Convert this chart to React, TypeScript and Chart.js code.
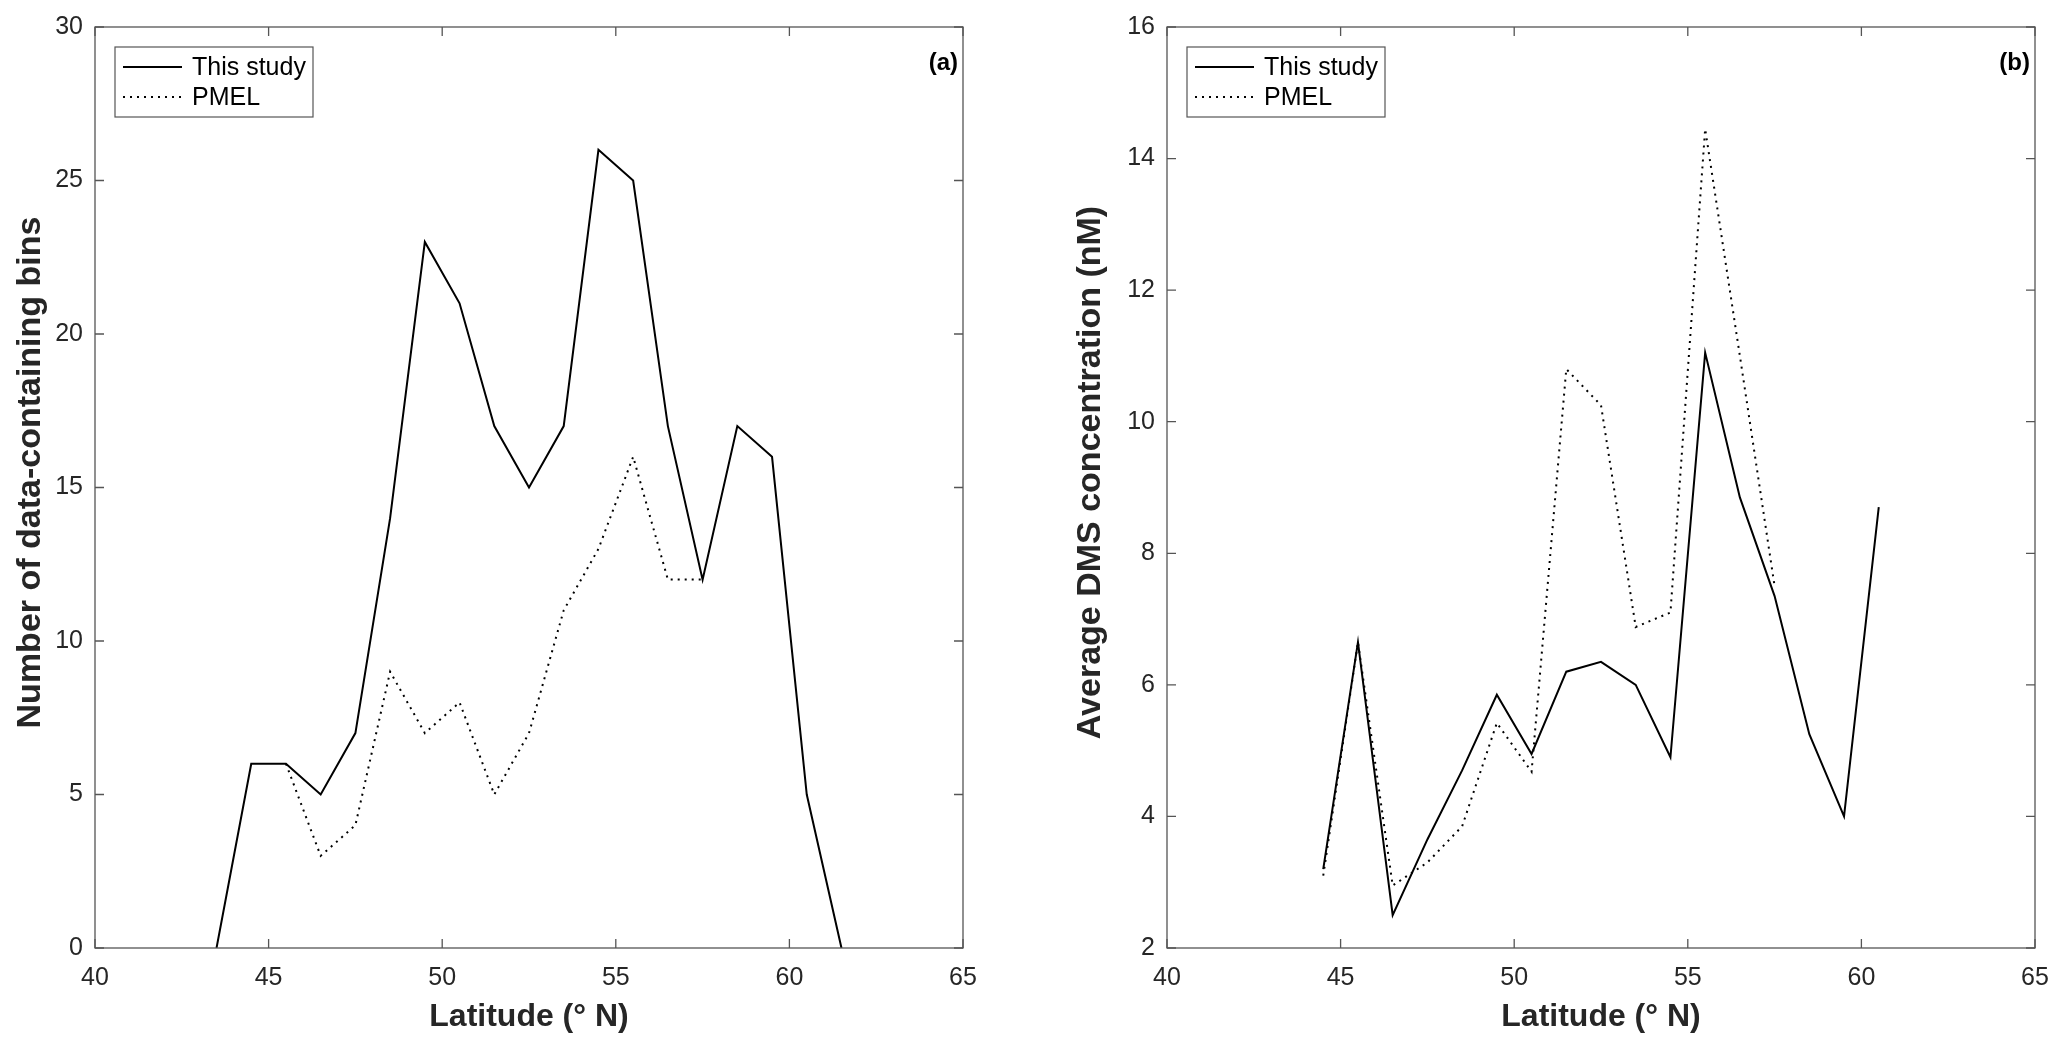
import React, { useEffect, useRef } from "react";
import { Chart, registerables } from "chart.js";

Chart.register(...registerables);

// ---------- data ----------
const latitudeTicks = [40, 45, 50, 55, 60, 65];

// Panel (a): number of data-containing bins
const binsLatStudy = [43.5, 44.5, 45.5, 46.5, 47.5, 48.5, 49.5, 50.5, 51.5, 52.5, 53.5, 54.5, 55.5, 56.5, 57.5, 58.5, 59.5, 60.5, 61.5];
const binsStudy = [0, 6, 6, 5, 7, 14, 23, 21, 17, 15, 17, 26, 25, 17, 12, 17, 16, 5, 0];
const binsLatPmel = [45.5, 46.5, 47.5, 48.5, 49.5, 50.5, 51.5, 52.5, 53.5, 54.5, 55.5, 56.5, 57.5];
const binsPmel = [6, 3, 4, 9, 7, 8, 5, 7, 11, 13, 16, 12, 12];

// Panel (b): average DMS concentration (nM)
const dmsLatStudy = [44.5, 45.5, 46.5, 47.5, 48.5, 49.5, 50.5, 51.5, 52.5, 53.5, 54.5, 55.5, 56.5, 57.5, 58.5, 59.5, 60.5];
const dmsStudy = [3.2, 6.65, 2.5, 3.65, 4.7, 5.85, 4.95, 6.2, 6.35, 6.0, 4.9, 11.05, 8.85, 7.35, 5.25, 4.0, 8.7];
const dmsLatPmel = [44.5, 45.5, 46.5, 47.5, 48.5, 49.5, 50.5, 51.5, 52.5, 53.5, 54.5, 55.5, 56.5, 57.5];
const dmsPmel = [3.1, 6.65, 2.95, 3.3, 3.85, 5.42, 4.68, 10.8, 10.25, 6.88, 7.1, 14.45, 11.0, 7.5];

const seriesNames = ["This study", "PMEL"];
const xTitle = "Latitude (° N)";

const FONT = "'Liberation Sans', Arial, Helvetica, sans-serif";
const TEXT = "#262626";

type PanelProps = {
  left: number;
  width: number;
  axisLeft: number;
  axisRight: number;
  yTitle: string;
  yTitleX: number;
  yMin: number;
  yMax: number;
  yStep: number;
  letter: string;
  studyX: number[];
  studyY: number[];
  pmelX: number[];
  pmelY: number[];
};

const toPts = (xs: number[], ys: number[]) => xs.map((x, i) => ({ x, y: ys[i] }));

function Panel(p: PanelProps) {
  const ref = useRef<HTMLCanvasElement | null>(null);
  useEffect(() => {
    if (!ref.current) return;
    const H = 1050;
    const topPad = 27;
    const bottomAxis = 948;
    const rightPad = p.width - p.axisRight;

    const matlabPlugin = {
      id: "matlabDeco",
      afterDatasetsDraw(chart: any) {
        const { ctx, chartArea } = chart;
        const { left, right, top, bottom } = chartArea;
        const xs = chart.scales.x;
        const ys = chart.scales.y;
        ctx.save();
        // axes box
        ctx.strokeStyle = "#555555";
        ctx.lineWidth = 1.3;
        ctx.strokeRect(left, top, right - left, bottom - top);
        // inward ticks on all sides
        const tl = 9;
        ctx.beginPath();
        for (const t of xs.ticks) {
          const px = xs.getPixelForValue(t.value);
          ctx.moveTo(px, bottom);
          ctx.lineTo(px, bottom - tl);
          ctx.moveTo(px, top);
          ctx.lineTo(px, top + tl);
        }
        for (const t of ys.ticks) {
          const py = ys.getPixelForValue(t.value);
          ctx.moveTo(left, py);
          ctx.lineTo(left + tl, py);
          ctx.moveTo(right, py);
          ctx.lineTo(right - tl, py);
        }
        ctx.stroke();

        // legend
        const lx = left + 20;
        const ly = top + 20;
        const lw = 198;
        const lh = 70;
        ctx.fillStyle = "#ffffff";
        ctx.fillRect(lx, ly, lw, lh);
        ctx.strokeStyle = "#555555";
        ctx.lineWidth = 1.2;
        ctx.strokeRect(lx, ly, lw, lh);
        const rows = [ly + 20, ly + 50];
        ctx.strokeStyle = "#000000";
        ctx.lineWidth = 2;
        ctx.setLineDash([]);
        ctx.beginPath();
        ctx.moveTo(left + 28, rows[0]);
        ctx.lineTo(left + 87, rows[0]);
        ctx.stroke();
        ctx.setLineDash([2, 5]);
        ctx.beginPath();
        ctx.moveTo(left + 28, rows[1]);
        ctx.lineTo(left + 87, rows[1]);
        ctx.stroke();
        ctx.setLineDash([]);
        ctx.fillStyle = "#000000";
        ctx.font = `25px ${FONT}`;
        ctx.textAlign = "left";
        ctx.textBaseline = "middle";
        ctx.fillText(seriesNames[0], left + 97, rows[0] + 1);
        ctx.fillText(seriesNames[1], left + 97, rows[1] + 1);

        // panel letter
        ctx.font = `bold 24px ${FONT}`;
        ctx.textAlign = "right";
        ctx.fillText(p.letter, right - 5, top + 36);

        // y-axis title
        ctx.translate(p.yTitleX, (top + bottom) / 2 - 15);
        ctx.rotate(-Math.PI / 2);
        ctx.fillStyle = TEXT;
        ctx.font = `bold 34px ${FONT}`;
        ctx.textAlign = "center";
        ctx.textBaseline = "middle";
        ctx.fillText(p.yTitle, 0, 0);
        ctx.restore();
      },
    };

    const chart = new Chart(ref.current, {
      type: "line",
      data: {
        datasets: [
          {
            label: seriesNames[0],
            data: toPts(p.studyX, p.studyY),
            borderColor: "#000000",
            borderWidth: 2,
            pointRadius: 0,
            tension: 0,
            fill: false,
          },
          {
            label: seriesNames[1],
            data: toPts(p.pmelX, p.pmelY),
            borderColor: "#000000",
            borderWidth: 2,
            borderDash: [2, 5],
            pointRadius: 0,
            tension: 0,
            fill: false,
          },
        ],
      },
      options: {
        animation: false,
        responsive: false,
        maintainAspectRatio: false,
        devicePixelRatio: 1,
        layout: { padding: { left: 0, top: topPad, right: rightPad, bottom: 0 } },
        plugins: { legend: { display: false }, tooltip: { enabled: false } },
        scales: {
          x: {
            type: "linear",
            min: latitudeTicks[0],
            max: latitudeTicks[latitudeTicks.length - 1],
            afterBuildTicks: (scale: any) => {
              scale.ticks = latitudeTicks.map((v) => ({ value: v }));
            },
            afterFit: (scale: any) => {
              scale.height = H - bottomAxis;
            },
            grid: { display: false, drawTicks: false },
            border: { display: false },
            ticks: {
              padding: 15,
              color: TEXT,
              font: { family: FONT, size: 25 },
              maxRotation: 0,
            },
            title: {
              display: true,
              text: xTitle,
              color: TEXT,
              font: { family: FONT, size: 32, weight: "bold" },
              padding: { top: 0, bottom: 14 },
            },
          },
          y: {
            type: "linear",
            min: p.yMin,
            max: p.yMax,
            ticks: {
              stepSize: p.yStep,
              padding: 12,
              color: TEXT,
              font: { family: FONT, size: 25 },
            },
            afterFit: (scale: any) => {
              scale.width = p.axisLeft;
            },
            grid: { display: false, drawTicks: false },
            border: { display: false },
            title: { display: false },
          },
        },
      },
      plugins: [matlabPlugin],
    } as any);
    return () => chart.destroy();
  }, []);
  return (
    <canvas
      ref={ref}
      width={p.width}
      height={1050}
      style={{ position: "absolute", left: p.left, top: 0, width: p.width, height: 1050 }}
    />
  );
}

export default function App() {
  return (
    <div style={{ position: "absolute", left: 0, top: 0, width: 2067, height: 1050, background: "#ffffff" }}>
      <Panel
        left={0}
        width={1030}
        axisLeft={95}
        axisRight={963}
        yTitle="Number of data-containing bins"
        yTitleX={31}
        yMin={0}
        yMax={30}
        yStep={5}
        letter="(a)"
        studyX={binsLatStudy}
        studyY={binsStudy}
        pmelX={binsLatPmel}
        pmelY={binsPmel}
      />
      <Panel
        left={1030}
        width={1037}
        axisLeft={137}
        axisRight={1005}
        yTitle="Average DMS concentration (nM)"
        yTitleX={61}
        yMin={2}
        yMax={16}
        yStep={2}
        letter="(b)"
        studyX={dmsLatStudy}
        studyY={dmsStudy}
        pmelX={dmsLatPmel}
        pmelY={dmsPmel}
      />
    </div>
  );
}
